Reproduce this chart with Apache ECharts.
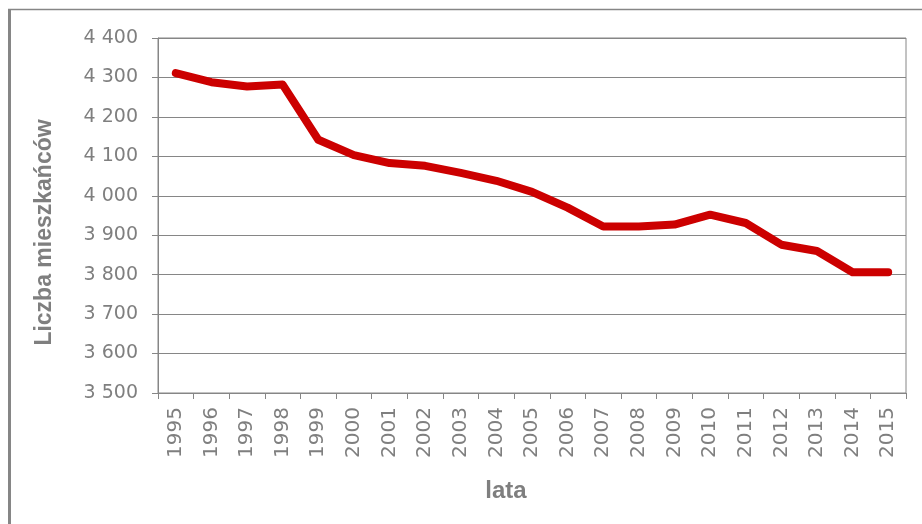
<!DOCTYPE html>
<html lang="pl">
<head>
    <meta charset="UTF-8">
    <title>Liczba mieszkańców</title>
    <script src="https://cdn.jsdelivr.net/npm/echarts@6/dist/echarts.min.js"></script>
    <style>
        html, body { margin: 0; padding: 0; background: #fff; }
        #main { width: 922px; height: 524px; }
    </style>
</head>
<body>
    <div id="main"></div>
    <script type="text/javascript">
        // dane
        var lata = ['1995', '1996', '1997', '1998', '1999', '2000', '2001', '2002', '2003', '2004', '2005',
            '2006', '2007', '2008', '2009', '2010', '2011', '2012', '2013', '2014', '2015'];
        var mieszkancy = [4311, 4288, 4277, 4282, 4142, 4103, 4083, 4076, 4058, 4038, 4010,
            3970, 3922, 3922, 3927, 3952, 3931, 3876, 3860, 3806, 3806];
        var osY = { min: 3500, max: 4400, interval: 100 };

        var szary = '#868686';
        var tekst = '#7f7f7f';

        var myChart = echarts.init(document.getElementById('main'));

        var option = {
            backgroundColor: '#fff',
            animation: false,
            grid: {
                left: 158, top: 38, right: 16, bottom: 131,
                show: true, borderColor: szary, borderWidth: 1
            },
            graphic: [
                { type: 'line', shape: { x1: 9.5, y1: 9, x2: 9.5, y2: 524 }, style: { stroke: szary, lineWidth: 3 } },
                { type: 'line', shape: { x1: 8, y1: 9.5, x2: 922, y2: 9.5 }, style: { stroke: szary, lineWidth: 1.5 } }
            ],
            xAxis: {
                type: 'category',
                data: lata,
                boundaryGap: true,
                name: 'lata',
                nameLocation: 'middle',
                nameGap: 86,
                nameTextStyle: {
                    color: tekst, fontFamily: 'Liberation Sans', fontWeight: 'bold', fontSize: 24,
                    padding: [0, 52, 0, 0]
                },
                axisLine: { lineStyle: { color: szary, width: 1 } },
                axisTick: { show: true, length: 6, lineStyle: { color: szary } },
                axisLabel: {
                    rotate: 90, margin: 14, interval: 0,
                    color: tekst, fontFamily: 'DejaVu Sans', fontSize: 20
                }
            },
            yAxis: {
                type: 'value',
                min: osY.min, max: osY.max, interval: osY.interval,
                name: 'Liczba mieszkańców',
                nameLocation: 'middle',
                nameGap: 102,
                nameTextStyle: {
                    color: tekst, fontFamily: 'Liberation Sans', fontWeight: 'bold', fontSize: 23,
                    padding: [0, 34, 0, 0]
                },
                axisLine: { show: true, lineStyle: { color: szary, width: 1 } },
                axisTick: { show: true, length: 6, lineStyle: { color: szary } },
                splitLine: { lineStyle: { color: szary, width: 1 } },
                axisLabel: {
                    margin: 20,
                    color: tekst, fontFamily: 'DejaVu Sans', fontSize: 19,
                    formatter: function (v) {
                        var s = String(v);
                        return s.slice(0, s.length - 3) + ' ' + s.slice(-3);
                    }
                }
            },
            series: [
                {
                    name: 'Liczba mieszkańców',
                    type: 'line',
                    data: mieszkancy,
                    symbol: 'none',
                    lineStyle: { color: '#cc0000', width: 8, cap: 'round', join: 'round' }
                }
            ]
        };

        myChart.setOption(option);
    </script>
</body>
</html>
